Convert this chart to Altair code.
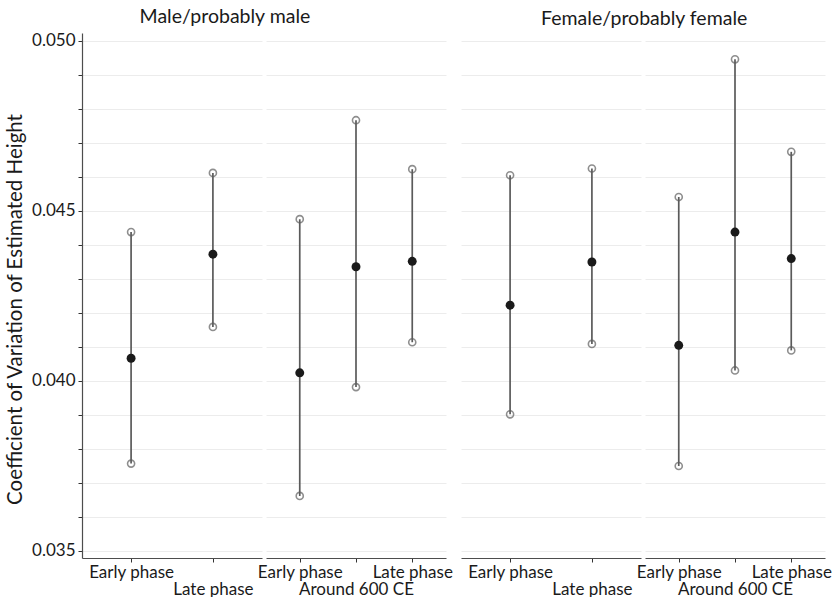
import altair as alt
import pandas as pd

# Coefficient of variation of estimated stature, by sex, site group and phase
sex = ["Male/probably male"] * 5 + ["Female/probably female"] * 5
group = [1, 1, 2, 2, 2, 1, 1, 2, 2, 2]
phase = ["Early phase", "Late phase", "Early phase", "Around 600 CE", "Late phase",
         "Early phase", "Late phase", "Early phase", "Around 600 CE", "Late phase"]
cv_mean = [0.04067, 0.04373, 0.04024, 0.04336, 0.04352,
           0.04223, 0.04350, 0.04105, 0.04438, 0.04360]
cv_lower = [0.03757, 0.04159, 0.03662, 0.03982, 0.04114,
            0.03902, 0.04109, 0.03750, 0.04031, 0.04090]
cv_upper = [0.04438, 0.04612, 0.04476, 0.04767, 0.04623,
            0.04605, 0.04625, 0.04541, 0.04946, 0.04674]

df = pd.DataFrame({"sex": sex, "group": group, "phase": phase,
                   "mean": cv_mean, "lower": cv_lower, "upper": cv_upper})

Y_DOMAIN = [0.034794, 0.050235]
Y_TICKS = [round(0.035 + 0.001 * i, 3) for i in range(16)]
FONT = "Lato"
PANEL_W = 180
PANEL_H = 525

ORDERS = {1: ["Early phase", "Late phase"],
          2: ["Early phase", "Around 600 CE", "Late phase"]}
# second-row labels (staggered like a two-line dodge)
LOWER_ROW = {1: "Late phase", 2: "Around 600 CE"}


def panel(sex_name, grp, show_y):
    data = df[(df["sex"] == sex_name) & (df["group"] == grp)]
    order = ORDERS[grp]
    x = alt.X(
        "phase:N", sort=order,
        scale=alt.Scale(type="point", padding=0.6, domain=order),
        axis=alt.Axis(
            title=None, labelAngle=0, grid=False,
            labelExpr=f"datum.value == '{LOWER_ROW[grp]}' ? ['', datum.label] : datum.label",
            labelFont=FONT, labelFontSize=17, labelColor="#1a1a1a",
            labelPadding=2, labelOverlap=False, labelBound=False,
            tickColor="#333333", tickSize=4, domainColor="#4d4d4d", domainWidth=1.2,
            labelLineHeight=17,
        ),
    )
    if show_y:
        y_axis = alt.Axis(
            values=Y_TICKS, title="Coefficient of Variation of Estimated Height",
            labelExpr="round(datum.value * 1000) % 5 == 0 ? format(datum.value, '.3f') : ''",
            labelFont=FONT, labelFontSize=17, labelColor="#1a1a1a", labelPadding=3,
            labelOverlap=False,
            titleFont=FONT, titleFontSize=20.5, titleFontWeight="normal", titleColor="#1a1a1a",
            titlePadding=6, titleY=276, tickColor="#333333", tickSize=4,
            domainColor="#4d4d4d", domainWidth=1.2,
            grid=True, gridColor="#ececec", gridWidth=1,
        )
    else:
        y_axis = alt.Axis(
            values=Y_TICKS, title=None, labels=False, ticks=False, domain=False,
            grid=True, gridColor="#ececec", gridWidth=1,
        )
    y_scale = alt.Scale(domain=Y_DOMAIN, nice=False, zero=False)

    base = alt.Chart(data).encode(x=x)
    bars = base.mark_rule(color="#5a5a5a", strokeWidth=1.7).encode(
        y=alt.Y("lower:Q", scale=y_scale, axis=y_axis), y2="upper:Q")
    lo = base.mark_point(shape="circle", filled=False, color="#5f5f5f",
                         size=50, strokeWidth=1.6).encode(
        y=alt.Y("lower:Q", scale=y_scale, axis=y_axis))
    hi = base.mark_point(shape="circle", filled=False, color="#5f5f5f",
                         size=50, strokeWidth=1.6).encode(
        y=alt.Y("upper:Q", scale=y_scale, axis=y_axis))
    mid = base.mark_point(shape="circle", filled=True, color="#1a1a1a",
                          size=80, opacity=1).encode(
        y=alt.Y("mean:Q", scale=y_scale, axis=y_axis))
    return alt.layer(bars, lo, hi, mid).properties(width=PANEL_W, height=PANEL_H)


def sex_block(sex_name, dx):
    return alt.hconcat(
        panel(sex_name, 1, sex_name.startswith("Male")),
        panel(sex_name, 2, False),
        spacing=4,
        bounds="flush",
        title=alt.TitleParams(sex_name, anchor="middle", font=FONT, fontSize=19.5,
                              fontWeight="normal", color="#1a1a1a", dx=dx, offset=4),
    )


chart = alt.hconcat(
    sex_block("Male/probably male", -4),
    sex_block("Female/probably female", -2),
    spacing=8,
).properties(
    padding={"left": 5, "top": 7, "right": 0, "bottom": 0},
).configure_view(stroke=None)

chart.save("out.html", embed_options={"renderer": "svg", "actions": False})
